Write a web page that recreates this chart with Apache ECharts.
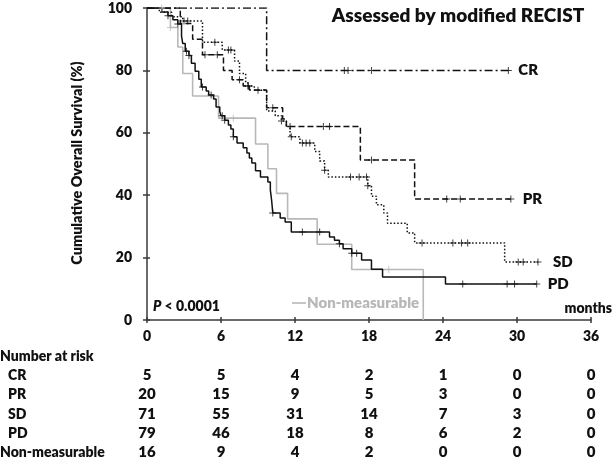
<!DOCTYPE html>
<html>
<head>
<meta charset="utf-8">
<script src="https://cdn.jsdelivr.net/npm/echarts@6/dist/echarts.min.js"></script>
<style>
html,body{margin:0;padding:0;background:#fff;}
#c{width:614px;height:460px;}
</style>
</head>
<body>
<div id="c"></div>
<script>
// ---- data ----
const xTicks = [0, 6, 12, 18, 24, 30, 36];
const yTicks = [0, 20, 40, 60, 80, 100];

// Kaplan-Meier steps: [month, survival % after drop]
const crSteps = [[0,100],[9.7,80],[29.3,80]];
const crCensor = [[16.0,80],[16.3,80],[18.2,80],[29.3,80]];

const prSteps = [[0,100],[2.7,95],[3.7,90],[4.5,85],[6.2,80],[6.9,77],[7.8,75],[8.3,73.7],[9.7,68],[11.0,64.4],[11.3,62],[17.3,51.3],[21.7,38.8],[29.5,38.8]];
const prCensor = [[4.7,85],[5.7,85],[7.5,77],[8.2,75],[10.2,68],[11.6,62],[14.3,62],[14.8,62],[18.2,51.3],[24.3,38.8],[25.4,38.8],[29.5,38.8]];

const sdSteps = [[0,100],[1.0,98.6],[2.0,97.2],[2.9,95.8],[4.5,89],[6.1,86.5],[7.1,83],[7.5,79],[8.0,76],[8.2,75],[8.7,73.6],[9.7,67],[10.4,65.5],[10.9,63.8],[11.3,62],[11.6,58.7],[12.4,56.7],[13.6,54],[14.0,51],[14.4,48],[14.7,45.8],[17.9,43],[18.2,39.7],[18.6,36.9],[19.2,34.3],[19.5,31],[21.1,27.9],[21.7,24.7],[29.0,18.6],[31.7,18.6]];
const sdCensor = [[3.0,95.8],[3.3,95.8],[5.5,89],[6.6,86.5],[6.8,86.5],[8.2,75],[9.0,73.6],[10.9,63.8],[11.7,58.7],[12.6,56.7],[12.9,56.7],[13.2,56.7],[14.4,48],[16.5,45.8],[17.2,45.8],[17.8,45.8],[17.9,43],[22.3,24.7],[24.8,24.7],[25.5,24.7],[26.0,24.7],[30.1,18.6],[30.5,18.6],[31.7,18.6]];

const pdSteps = [[0,100],[1.2,98.7],[1.7,97.5],[2.1,96.2],[2.5,94.9],[2.8,91],[2.9,88.6],[3.1,86.1],[3.4,84.8],[3.6,82.3],[3.9,79.7],[4.2,77.2],[4.4,74.7],[4.8,73.4],[5.0,72.1],[5.4,70.8],[5.6,68.3],[5.9,66.8],[6.0,65.5],[6.3,64],[6.6,62.5],[6.8,61.2],[7.0,58.7],[7.3,56.7],[7.8,55.2],[8.1,53.5],[8.3,51.9],[8.5,50.3],[8.8,47.8],[9.2,45.8],[9.8,44.2],[10.0,41.7],[10.1,38.5],[10.2,34.3],[10.8,32.7],[11.2,31.4],[11.7,28.2],[14.8,26.6],[15.2,25.6],[15.6,24.4],[15.9,22.8],[16.6,21.4],[17.4,19.2],[18.2,16.3],[19.1,13.8],[24.2,11.5],[31.6,11.5]];
const pdCensor = [[1.7,97.5],[2.5,94.9],[3.2,86.1],[3.4,84.8],[4.5,74.7],[5.2,72.1],[6.1,65.5],[6.3,64],[7.0,58.7],[10.2,34.3],[12.6,28.2],[14.0,28.2],[15.6,24.4],[16.6,21.4],[17.0,21.4],[25.6,11.5],[29.2,11.5],[29.8,11.5],[31.6,11.5]];

const nmSteps = [[0,100],[1.9,93.75],[2.5,87.5],[2.9,79],[3.7,71.8],[5.8,64.7],[8.8,56.4],[9.8,48.5],[10.5,40.6],[11.4,32.4],[13.8,24.3],[16.6,16.2],[22.4,0],[22.4,0]];
const nmCensor = [[1.2,100],[1.9,93.75],[7.0,64.7],[19.6,16.2]];

const riskGroups = ['CR', 'PR', 'SD', 'PD', 'Non-measurable'];
const riskCR = [5, 5, 4, 2, 1, 0, 0];
const riskPR = [20, 15, 9, 5, 3, 0, 0];
const riskSD = [71, 55, 31, 14, 7, 3, 0];
const riskPD = [79, 46, 18, 8, 6, 2, 0];
const riskNM = [16, 9, 4, 2, 0, 0, 0];

// ---- chart ----
const FONT = 'Lato';
const W = '800';
const BLACK = '#111';
const GRAY = '#b8b8b8';
const AXIS = '#3a3a3a';
const PLUS = 'path://M3,0H4V3H7V4H4V7H3V4H0V3H3Z';

const chart = echarts.init(document.getElementById('c'), null, {renderer: 'canvas'});

function km(name, data, color, type, w) {
  return {
    name: name, type: 'line', step: 'end', data: data, showSymbol: false,
    lineStyle: {color: color, width: w, type: type}, silent: true, animation: false, z: 3
  };
}
function cens(name, data, color) {
  return {
    name: name + 'c', type: 'scatter', data: data, symbol: PLUS, symbolSize: 7,
    itemStyle: {color: color}, silent: true, animation: false, z: 4
  };
}

const axisCommonX = {type: 'value', min: 0, max: 36, interval: 6, splitLine: {show: false}};
const axisCommonY = {type: 'value', min: 0, max: 100, interval: 20, splitLine: {show: false}};

chart.setOption({
  animation: false,
  grid: {left: 147, right: 23, top: 8, bottom: 140, containLabel: false},
  xAxis: [
    Object.assign({}, axisCommonX, {
      axisLine: {show: true, lineStyle: {color: AXIS, width: 1.5}},
      axisTick: {show: true, length: 3, lineStyle: {color: AXIS, width: 1.5}},
      axisLabel: {color: '#111', fontFamily: FONT, fontWeight: W, fontSize: 14, margin: 9,
        formatter: function (v) { return xTicks.indexOf(v) >= 0 ? String(v) : ''; }}
    }),
    Object.assign({}, axisCommonX, {
      position: 'bottom',
      axisLine: {show: false},
      axisTick: {show: true, inside: true, length: 3, lineStyle: {color: AXIS, width: 1.5}},
      axisLabel: {show: false}
    })
  ],
  yAxis: [
    Object.assign({}, axisCommonY, {
      axisLine: {show: true, lineStyle: {color: AXIS, width: 1.5}},
      axisTick: {show: true, length: 4, lineStyle: {color: AXIS, width: 1.5}},
      axisLabel: {color: '#111', fontFamily: FONT, fontWeight: W, fontSize: 14, margin: 15,
        formatter: function (v) { return yTicks.indexOf(v) >= 0 ? String(v) : ''; }}
    }),
    Object.assign({}, axisCommonY, {
      position: 'left',
      axisLine: {show: false},
      axisTick: {show: true, inside: true, length: 3, lineStyle: {color: AXIS, width: 1.5}},
      axisLabel: {show: false}
    })
  ],
  series: [
    km('NM', nmSteps, GRAY, 'solid', 1.6),
    km('CR', crSteps, BLACK, [8, 3, 2, 3], 1.5),
    km('PR', prSteps, BLACK, [6, 3], 1.5),
    km('SD', sdSteps, BLACK, [1.5, 2], 1.5),
    km('PD', pdSteps, BLACK, 'solid', 1.5),
    cens('NM', nmCensor, GRAY),
    cens('CR', crCensor, BLACK),
    cens('PR', prCensor, BLACK),
    cens('SD', sdCensor, BLACK),
    cens('PD', pdCensor, BLACK)
  ]
});

function px(x, y) { return chart.convertToPixel({gridIndex: 0}, [x, y]); }

const g = [];
const txt = (x, y, s, opt) => g.push({
  type: 'text', x: x, y: y, silent: true,
  style: Object.assign({text: s, fill: '#111', font: W + ' 14px ' + FONT, align: 'left', verticalAlign: 'middle'}, opt || {})
});

// title
txt(458, 16, 'Assessed by modified RECIST', {align: 'center', font: W + ' 19px ' + FONT});
// y axis name
g.push({type: 'text', x: 77, y: 163, rotation: Math.PI / 2, silent: true,
  style: {text: 'Cumulative Overall Survival (%)', fill: '#111', font: W + ' 14.4px ' + FONT, align: 'center', verticalAlign: 'middle'}});

// curve labels
const ends = [['CR', crSteps, 10], ['PR', prSteps, 12], ['SD', sdSteps, 15], ['PD', pdSteps, 11]];
ends.forEach(function (e) {
  const last = e[1][e[1].length - 1];
  const p = px(last[0], last[1]);
  txt(p[0] + e[2], p[1], e[0], {font: W + ' 15px ' + FONT});
});

// P value
g.push({type: 'text', x: 153, y: 306, silent: true,
  style: {text: '{i|P} < 0.0001', fill: '#111', font: W + ' 14px ' + FONT, verticalAlign: 'middle',
    rich: {i: {fontStyle: 'italic', fontWeight: W, fontSize: 14, fontFamily: FONT}}}});

// months
txt(612, 308, 'months', {align: 'right'});

// Non-measurable legend
g.push({type: 'line', silent: true, shape: {x1: 292, y1: 303, x2: 306, y2: 303}, style: {stroke: GRAY, lineWidth: 1.6}});
txt(307, 303, 'Non-measurable', {fill: GRAY, font: W + ' 15px ' + FONT});

// risk table
txt(0, 356, 'Number at risk');
const rows = [riskCR, riskPR, riskSD, riskPD, riskNM];
const rowY = [375, 394, 414, 433, 452];
rows.forEach(function (r, i) {
  txt(i === 4 ? 0 : 8, rowY[i], riskGroups[i]);
  r.forEach(function (v, j) {
    const x = px(xTicks[j], 0)[0];
    txt(x, rowY[i], String(v), {align: 'center', font: W + ' 15px ' + FONT});
  });
});

chart.setOption({graphic: g});
</script>
</body>
</html>
